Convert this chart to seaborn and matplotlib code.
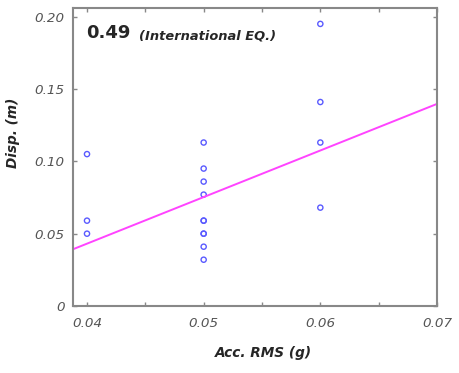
import numpy as np
import pandas as pd
import matplotlib
matplotlib.use("Agg")
import matplotlib.pyplot as plt
import seaborn as sns

# data
acc_rms = [0.04, 0.04, 0.04,
           0.05, 0.05, 0.05, 0.05, 0.05, 0.05, 0.05, 0.05, 0.05, 0.05,
           0.06, 0.06, 0.06, 0.06]
disp = [0.105, 0.059, 0.050,
        0.113, 0.095, 0.086, 0.077, 0.059, 0.059, 0.050, 0.050, 0.041, 0.032,
        0.195, 0.141, 0.113, 0.068]
fit_slope = 3.22
fit_intercept = -0.0857
r_value = "0.49"
group_name = "(International EQ.)"
x_ticks = [0.04, 0.05, 0.06, 0.07]
x_ticklabels = ["0.04", "0.05", "0.06", "0.07"]
y_ticks = [0, 0.05, 0.10, 0.15, 0.20]
y_ticklabels = ["0", "0.05", "0.10", "0.15", "0.20"]

df = pd.DataFrame({"acc": acc_rms, "disp": disp})

sns.set_style("white")
plt.rcParams['font.family'] = ['DejaVu Sans']

fig = plt.figure(figsize=(4.6, 3.73), dpi=100)
ax = fig.add_axes([0.1587, 0.1796, 0.7913, 0.799])

xlim = (0.0388, 0.07)
ylim = (0, 0.206)

# regression line
line_x = np.array(xlim)
sns.lineplot(x=line_x, y=fit_slope * line_x + fit_intercept, ax=ax,
             color="#ff44ff", linewidth=1.4)

# points
sns.scatterplot(data=df, x="acc", y="disp", ax=ax, marker="o", s=14,
                facecolors="none", edgecolor="#5a5aff", linewidth=1.0)

ax.set_xlim(xlim)
ax.set_ylim(ylim)
ax.set_xticks(x_ticks)
ax.set_xticklabels(x_ticklabels)
ax.set_xticks([0.045, 0.055, 0.065], minor=True)
ax.set_yticks(y_ticks)
ax.set_yticklabels(y_ticklabels)

for lab in ax.get_xticklabels() + ax.get_yticklabels():
    lab.set_fontstyle("italic")
    lab.set_fontsize(9.7)
    lab.set_color("#555555")

ax.tick_params(which="both", direction="in", length=3, width=1, color="#888888",
               top=True, right=True, bottom=True, left=True, pad=6)
ax.tick_params(axis="x", pad=8)

for sp in ax.spines.values():
    sp.set_color("#888888")
    sp.set_linewidth(1.5)

ax.set_xlabel("Acc. RMS (g)", fontsize=9.8, fontweight="bold", fontstyle="italic")
ax.set_ylabel("Disp. (m)", fontsize=9.8, fontweight="bold", fontstyle="italic")
ax.xaxis.set_label_coords(0.522, -0.133)
ax.yaxis.set_label_coords(-0.145, 0.58)

ax.text(0.036, 0.915, r_value, transform=ax.transAxes, fontsize=13,
        fontweight="bold", va="center", ha="left")
ax.text(0.181, 0.907, group_name, transform=ax.transAxes, fontsize=9.4,
        fontweight="bold", fontstyle="italic", va="center", ha="left")

fig.savefig("out.png", dpi=100)
